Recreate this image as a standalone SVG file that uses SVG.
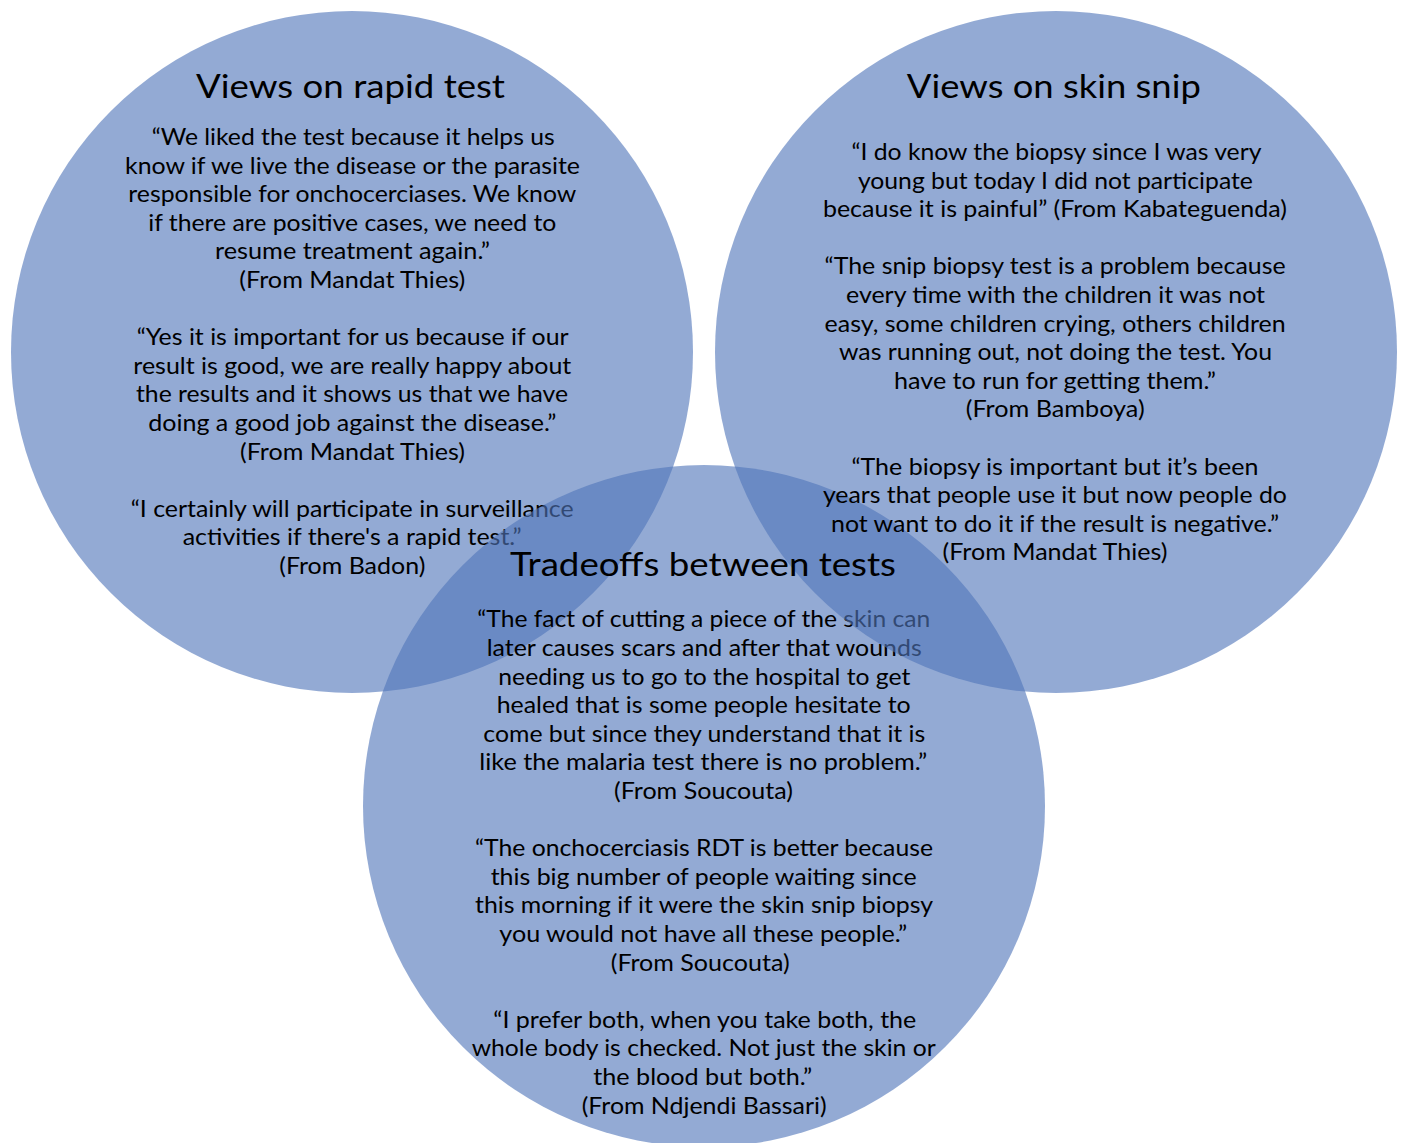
<svg xmlns="http://www.w3.org/2000/svg" width="1403" height="1143" viewBox="0 0 1403 1143">
  <style>
    .set { fill: #5176BA; fill-opacity: 0.62; }
    text { font-family: Lato, "Open Sans", "Liberation Sans", sans-serif; fill: #000; }
    .title { font-size: 32.5px; }
    .body { font-size: 23px; }
  </style>
  <rect width="1403" height="1143" fill="#fff"/>

  <!-- Set 1: rapid test -->
  <g id="rapid-test">
    <circle class="set" cx="352" cy="352" r="341"/>
    <text class="title" x="196" y="98" textLength="309" lengthAdjust="spacingAndGlyphs">Views on rapid test</text>
    <g class="body">
      <text x="151.7" y="145" textLength="403" lengthAdjust="spacingAndGlyphs">“We liked the test because it helps us</text>
      <text x="125" y="173.6" textLength="455" lengthAdjust="spacingAndGlyphs">know if we live the disease or the parasite</text>
      <text x="128.3" y="202.2" textLength="448" lengthAdjust="spacingAndGlyphs">responsible for onchocerciases. We know</text>
      <text x="148.3" y="230.8" textLength="408" lengthAdjust="spacingAndGlyphs">if there are positive cases, we need to</text>
      <text x="215" y="259.4" textLength="275" lengthAdjust="spacingAndGlyphs">resume treatment again.”</text>
      <text x="239.3" y="288" textLength="226" lengthAdjust="spacingAndGlyphs">(From Mandat Thies)</text>
      <text x="136.7" y="345.2" textLength="432" lengthAdjust="spacingAndGlyphs">“Yes it is important for us because if our</text>
      <text x="133.3" y="373.8" textLength="438" lengthAdjust="spacingAndGlyphs">result is good, we are really happy about</text>
      <text x="136" y="402.4" textLength="432" lengthAdjust="spacingAndGlyphs">the results and it shows us that we have</text>
      <text x="148.3" y="431" textLength="408" lengthAdjust="spacingAndGlyphs">doing a good job against the disease.”</text>
      <text x="240" y="459.6" textLength="225" lengthAdjust="spacingAndGlyphs">(From Mandat Thies)</text>
      <text x="130.7" y="516.8" textLength="443" lengthAdjust="spacingAndGlyphs">“I certainly will participate in surveillance</text>
      <text x="182.7" y="545.4" textLength="339" lengthAdjust="spacingAndGlyphs">activities if there's a rapid test.”</text>
      <text x="279.3" y="574" textLength="146" lengthAdjust="spacingAndGlyphs">(From Badon)</text>
    </g>
  </g>

  <!-- Set 3: tradeoffs (body sits under set 2's fill) -->
  <g id="tradeoffs">
    <circle class="set" cx="704" cy="806" r="341"/>
    <g class="body">
      <text x="477.3" y="627.3" textLength="453" lengthAdjust="spacingAndGlyphs">“The fact of cutting a piece of the skin can</text>
      <text x="486.7" y="655.9" textLength="435" lengthAdjust="spacingAndGlyphs">later causes scars and after that wounds</text>
      <text x="498.3" y="684.5" textLength="412" lengthAdjust="spacingAndGlyphs">needing us to go to the hospital to get</text>
      <text x="496.7" y="713.1" textLength="414" lengthAdjust="spacingAndGlyphs">healed that is some people hesitate to</text>
      <text x="483.3" y="741.7" textLength="442" lengthAdjust="spacingAndGlyphs">come but since they understand that it is</text>
      <text x="479.3" y="770.3" textLength="448" lengthAdjust="spacingAndGlyphs">like the malaria test there is no problem.”</text>
      <text x="614" y="798.9" textLength="179" lengthAdjust="spacingAndGlyphs">(From Soucouta)</text>
      <text x="475" y="856.1" textLength="458" lengthAdjust="spacingAndGlyphs">“The onchocerciasis RDT is better because</text>
      <text x="490.7" y="884.7" textLength="426" lengthAdjust="spacingAndGlyphs">this big number of people waiting since</text>
      <text x="475" y="913.3" textLength="458" lengthAdjust="spacingAndGlyphs">this morning if it were the skin snip biopsy</text>
      <text x="499.3" y="941.9" textLength="408" lengthAdjust="spacingAndGlyphs">you would not have all these people.”</text>
      <text x="610.7" y="970.5" textLength="179" lengthAdjust="spacingAndGlyphs">(From Soucouta)</text>
      <text x="493.3" y="1027.7" textLength="423" lengthAdjust="spacingAndGlyphs">“I prefer both, when you take both, the</text>
      <text x="471.7" y="1056.3" textLength="464" lengthAdjust="spacingAndGlyphs">whole body is checked. Not just the skin or</text>
      <text x="593.3" y="1084.9" textLength="219" lengthAdjust="spacingAndGlyphs">the blood but both.”</text>
      <text x="581.7" y="1113.5" textLength="245" lengthAdjust="spacingAndGlyphs">(From Ndjendi Bassari)</text>
    </g>
  </g>

  <!-- Set 2: skin snip -->
  <g id="skin-snip">
    <circle class="set" cx="1056" cy="352" r="341"/>
    <text class="title" x="906.8" y="98" textLength="294" lengthAdjust="spacingAndGlyphs">Views on skin snip</text>
    <g class="body">
      <text x="851.4" y="160" textLength="410" lengthAdjust="spacingAndGlyphs">“I do know the biopsy since I was very</text>
      <text x="857.9" y="188.6" textLength="395" lengthAdjust="spacingAndGlyphs">young but today I did not participate</text>
      <text x="822.9" y="217.2" textLength="464" lengthAdjust="spacingAndGlyphs">because it is painful” (From Kabateguenda)</text>
      <text x="824.6" y="274.4" textLength="461" lengthAdjust="spacingAndGlyphs">“The snip biopsy test is a problem because</text>
      <text x="846" y="303" textLength="419" lengthAdjust="spacingAndGlyphs">every time with the children it was not</text>
      <text x="824.6" y="331.6" textLength="461" lengthAdjust="spacingAndGlyphs">easy, some children crying, others children</text>
      <text x="839" y="360.2" textLength="433" lengthAdjust="spacingAndGlyphs">was running out, not doing the test. You</text>
      <text x="894" y="388.8" textLength="322" lengthAdjust="spacingAndGlyphs">have to run for getting them.”</text>
      <text x="965.7" y="417.4" textLength="179" lengthAdjust="spacingAndGlyphs">(From Bamboya)</text>
      <text x="851.4" y="474.6" textLength="407" lengthAdjust="spacingAndGlyphs">“The biopsy is important but it’s been</text>
      <text x="822.9" y="503.2" textLength="464" lengthAdjust="spacingAndGlyphs">years that people use it but now people do</text>
      <text x="831" y="531.8" textLength="448" lengthAdjust="spacingAndGlyphs">not want to do it if the result is negative.”</text>
      <text x="942.5" y="560.4" textLength="225" lengthAdjust="spacingAndGlyphs">(From Mandat Thies)</text>
    </g>
  </g>

  <!-- Heading of set 3, kept above every fill -->
  <g id="tradeoffs-title">
    <text class="title" x="510" y="576" textLength="386" lengthAdjust="spacingAndGlyphs">Tradeoffs between tests</text>
  </g>
</svg>
